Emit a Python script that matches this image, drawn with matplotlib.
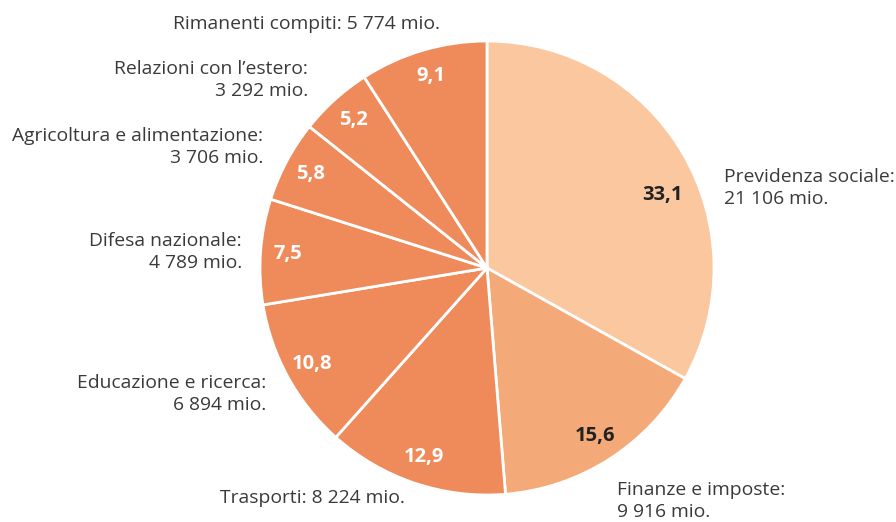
import matplotlib
matplotlib.use("Agg")
import matplotlib.pyplot as plt
import numpy as np

categories = ["Previdenza sociale", "Finanze e imposte", "Trasporti", "Educazione e ricerca",
              "Difesa nazionale", "Agricoltura e alimentazione", "Relazioni con l’estero",
              "Rimanenti compiti"]
shares = [33.1, 15.6, 12.9, 10.8, 7.5, 5.8, 5.2, 9.1]
amounts = ["21 106", "9 916", "8 224", "6 894", "4 789", "3 706", "3 292", "5 774"]
colors = ["#FBC79F", "#F4AA78", "#EF8B5B", "#EF8B5B", "#EF8B5B", "#EF8B5B", "#EF8B5B", "#EF8B5B"]
pct_colors = ["#222222", "#222222", "white", "white", "white", "white", "white", "white"]

W, H = 896, 522
fig = plt.figure(figsize=(W / 100, H / 100), dpi=100)
ax = fig.add_axes([0, 0, 1, 1])

cx, cy, R = 487, H - 268, 227
wedges, _ = ax.pie(shares, colors=colors, startangle=90, counterclock=False,
                   center=(cx, cy), radius=R, frame=True,
                   wedgeprops=dict(edgecolor="white", linewidth=2))
ax.set_xlim(0, W)
ax.set_ylim(0, H)
ax.set_aspect("equal")
ax.axis("off")

font = "Open Sans"
txtc = "#3a3a3a"

# percentage labels
for i, (w, s) in enumerate(zip(wedges, shares)):
    ang = np.deg2rad((w.theta1 + w.theta2) / 2)
    r = 0.88 * R
    if i == 0:
        ang = np.deg2rad(22.5)
        r = 190
    x = cx + r * np.cos(ang)
    y = cy + r * np.sin(ang)
    ax.text(x, y, f"{s:.1f}".replace(".", ","), ha="center", va="center",
            fontsize=14.5, fontweight="bold", color=pct_colors[i], family=font)

# outer labels (pixel positions from top-left)
label_pos = [
    (724, 188, "left", True),
    (617, 501, "left", True),
    (220, 498, "left", False),
    (266, 394, "right", True),
    (242, 252, "right", True),
    (263, 147, "right", True),
    (308, 80, "right", True),
    (440, 24, "right", False),
]
for cat, amt, (x, y, ha, two) in zip(categories, amounts, label_pos):
    sep = ":\n" if two else ": "
    ax.text(x, H - y, f"{cat}{sep}{amt} mio.", ha=ha, va="center",
            fontsize=13.9, color=txtc, family=font, linespacing=1.22,
            multialignment=ha)

fig.savefig("out.png", dpi=100, facecolor="white")
